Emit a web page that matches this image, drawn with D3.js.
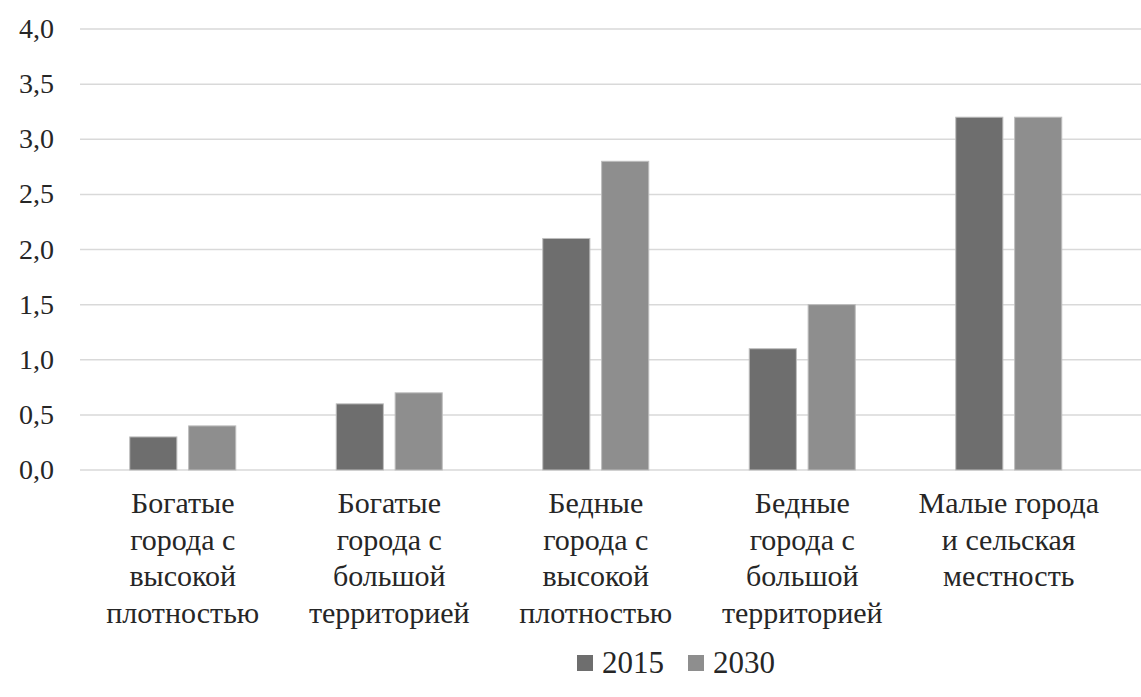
<!DOCTYPE html>
<meta charset="utf-8">
<script src="https://cdn.jsdelivr.net/npm/d3@7"></script>
<body>
<script>

// Data
var categories = [
  ["Богатые", "города с", "высокой", "плотностью"],
  ["Богатые", "города с", "большой", "территорией"],
  ["Бедные", "города с", "высокой", "плотностью"],
  ["Бедные", "города с", "большой", "территорией"],
  ["Малые города", "и сельская", "местность"]
];
var series = ["2015", "2030"];
var values2015 = [0.3, 0.6, 2.1, 1.1, 3.2];
var values2030 = [0.4, 0.7, 2.8, 1.5, 3.2];
var yTicks = [0, 0.5, 1, 1.5, 2, 2.5, 3, 3.5, 4];

var colors = {"2015": "#6e6e6e", "2030": "#8e8e8e"};
var FONT = "Times New Roman, Liberation Serif, Tinos, serif";

d3.select("body").style("margin", "0px");

var width = 1141, height = 697;
var svg = d3.select("body").append("svg")
    .attr("width", width)
    .attr("height", height)
    .attr("font-family", FONT)
    .style("font-family", FONT)
    .style("display", "block");

var x0 = d3.scaleBand().domain(d3.range(categories.length)).range([79.5, 1112]);
var x1 = d3.scaleBand().domain(series).range([x0.bandwidth()/2 - 53, x0.bandwidth()/2 + 53]).paddingInner(0.2);
var y = d3.scaleLinear().domain([0, 4]).range([470, 29]);

// gridlines
svg.append("g").selectAll("line")
    .data(yTicks)
    .enter().append("line")
    .attr("x1", 80).attr("x2", width)
    .attr("y1", function(d) { return y(d); })
    .attr("y2", function(d) { return y(d); })
    .attr("stroke", "#d9d9d9")
    .attr("stroke-width", 1.5);

// y labels
var fmt = function(d) { return d3.format(".1f")(d).replace(".", ","); };
svg.append("g").selectAll("text")
    .data(yTicks)
    .enter().append("text")
    .attr("x", 54)
    .attr("y", function(d) { return y(d) + 9; })
    .attr("text-anchor", "end")
    .attr("font-family", FONT)
    .style("font-family", FONT)
    .attr("font-size", "28px")
    .attr("fill", "#262626")
    .text(fmt);

// bars
var groups = svg.append("g").selectAll("g")
    .data(categories.map(function(c, i) {
      return {i: i, vals: [{s: "2015", v: values2015[i]}, {s: "2030", v: values2030[i]}]};
    }))
    .enter().append("g")
    .attr("transform", function(d) { return "translate(" + x0(d.i) + ",0)"; });

groups.selectAll("rect")
    .data(function(d) { return d.vals; })
    .enter().append("rect")
    .attr("x", function(d) { return x1(d.s); })
    .attr("width", x1.bandwidth())
    .attr("y", function(d) { return y(d.v); })
    .attr("height", function(d) { return y(0) - y(d.v); })
    .attr("fill", function(d) { return colors[d.s]; })
    .attr("stroke", "#bdbdbd")
    .attr("stroke-width", 1);

// category labels, one text per line
categories.forEach(function(lines, i) {
  svg.append("g").selectAll("text")
      .data(lines)
      .enter().append("text")
      .attr("x", x0(i) + x0.bandwidth()/2)
      .attr("y", function(d, j) { return 513 + j * 36.5; })
      .attr("text-anchor", "middle")
      .attr("font-family", FONT)
      .style("font-family", FONT)
      .attr("font-size", "30px")
      .attr("fill", "#262626")
      .text(String);
});

// legend
var legend = svg.append("g").selectAll("g")
    .data(series)
    .enter().append("g")
    .attr("transform", function(d, i) { return "translate(" + (577 + i * 111) + ",655)"; });
legend.append("rect")
    .attr("width", 16).attr("height", 16)
    .attr("fill", function(d) { return colors[d]; });
legend.append("text")
    .attr("x", 25)
    .attr("y", 18)
    .attr("font-family", FONT)
    .style("font-family", FONT)
    .attr("font-size", "31px")
    .attr("fill", "#262626")
    .text(String);

</script>
</body>
</html>
